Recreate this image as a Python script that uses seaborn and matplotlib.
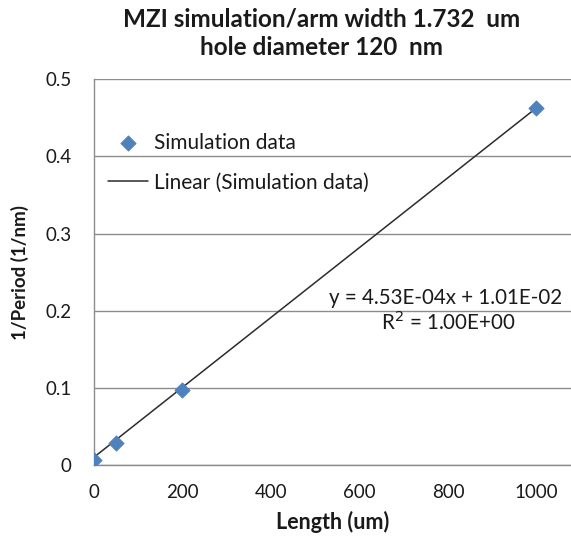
import numpy as np
import pandas as pd
import matplotlib
matplotlib.use("Agg")
import matplotlib.pyplot as plt
import seaborn as sns

# Simulation results
length_um = [0, 50, 200, 1000]
inv_period = [0.007, 0.029, 0.097, 0.463]

# Linear fit coefficients shown on the chart
slope = 4.53e-4
intercept = 1.01e-2
r_squared = 1.00

x_ticks = [0, 200, 400, 600, 800, 1000]
y_ticks = [0, 0.1, 0.2, 0.3, 0.4, 0.5]

sns.set_style("white")
plt.rcParams["font.family"] = ["Lato", "DejaVu Sans"]

df = pd.DataFrame({"Length (um)": length_um, "1/Period (1/nm)": inv_period})
fit_x = np.array([min(length_um), max(length_um)])
fit_df = pd.DataFrame({"x": fit_x, "y": slope * fit_x + intercept})

fig = plt.figure(figsize=(5.71, 5.36), dpi=100)
ax = fig.add_axes([0.1646, 0.1325, 0.8354, 0.7195])

grid_c = "#8c8c8c"
text_c = "#1a1a1a"

sns.lineplot(data=fit_df, x="x", y="y", ax=ax, color="#2b2b2b", lw=1.1,
             label="Linear (Simulation data)", zorder=3)
sns.scatterplot(data=df, x="Length (um)", y="1/Period (1/nm)", ax=ax,
                marker="D", s=60, color="#4F81BD", edgecolor="#4F81BD",
                label="Simulation data", zorder=4)

ax.set_xlim(0, 1078)
ax.set_ylim(0, 0.5)
ax.set_xticks(x_ticks)
ax.set_yticks(y_ticks)
ax.set_xticklabels([str(t) for t in x_ticks])
ax.set_yticklabels(["0", "0.1", "0.2", "0.3", "0.4", "0.5"])
ax.yaxis.grid(True, color=grid_c, lw=1.0)
ax.xaxis.grid(False)
ax.set_axisbelow(True)

for side in ["top", "right"]:
    ax.spines[side].set_visible(False)
ax.spines["left"].set_color(grid_c)
ax.spines["bottom"].set_color(grid_c)
ax.spines["left"].set_linewidth(1.0)
ax.spines["bottom"].set_linewidth(1.0)

ax.tick_params(axis="both", which="both", length=6, width=1.0, color=grid_c,
               labelsize=13.5, labelcolor=text_c, direction="out")
ax.tick_params(axis="x", pad=8)
ax.tick_params(axis="y", pad=10)

ax.set_xlabel("Length (um)", fontsize=15.5, fontweight="bold", color=text_c, labelpad=7)
ax.set_ylabel("1/Period (1/nm)", fontsize=13.5, fontweight="bold", color=text_c, labelpad=12)

fig.text(0.563, 0.965, "MZI simulation/arm width 1.732  um", ha="center", va="center",
         fontsize=17.5, fontweight="bold", color=text_c)
fig.text(0.563, 0.911, "hole diameter 120  nm", ha="center", va="center",
         fontsize=17.5, fontweight="bold", color=text_c)

ax.text(795, 0.2166, f"y = {slope:.2E}x + {intercept:.2E}", ha="center", va="center",
        fontsize=14.8, color=text_c)
ax.text(800, 0.1855, f"R$^2$ = {r_squared:.2E}", ha="center", va="center",
        fontsize=14.8, color=text_c)

handles, labels = ax.get_legend_handles_labels()
order = [labels.index("Simulation data"), labels.index("Linear (Simulation data)")]
leg = ax.legend([handles[i] for i in order], [labels[i] for i in order],
                loc="upper left", bbox_to_anchor=(-0.01, 0.91), frameon=False,
                fontsize=15, handlelength=1.9, labelspacing=0.95, handletextpad=0.3)
for t in leg.get_texts():
    t.set_color(text_c)

fig.savefig("out.png", dpi=100)
